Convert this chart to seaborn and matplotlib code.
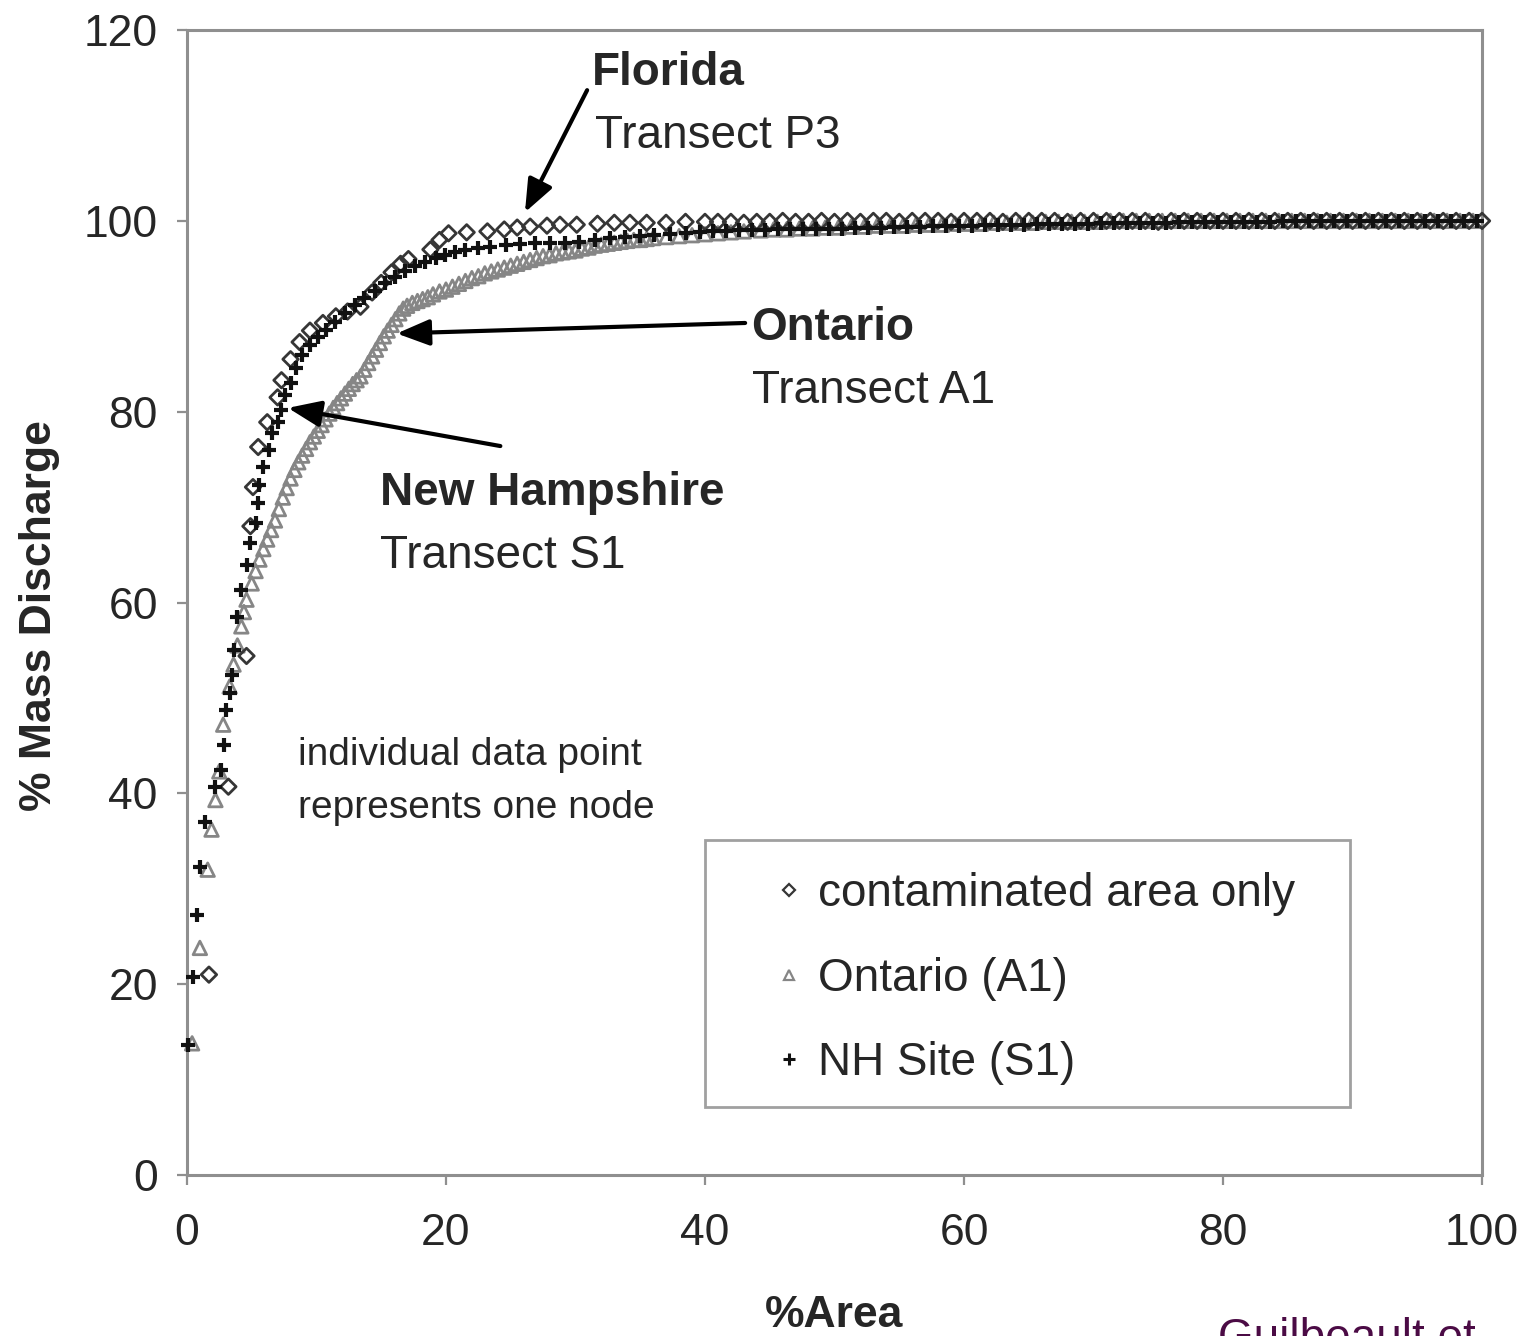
import matplotlib
matplotlib.use("Agg")
import matplotlib.pyplot as plt
import seaborn as sns
from matplotlib.lines import Line2D
from matplotlib.patches import Rectangle

# ---- data: cumulative % mass discharge vs cumulative % area -------------
# Florida, transect P3 (contaminated area only)
florida_x_head = [1.7, 3.2, 4.6, 4.9, 5.1, 5.5, 6.2, 7.0, 7.3, 8.0,
                  8.7, 9.5, 10.5, 11.5, 12.4, 13.4, 14.3, 15.0, 15.8, 16.5,
                  17.1, 18.8, 19.5, 20.2, 21.6, 23.2, 24.5, 25.5, 26.5, 27.8,
                  28.8, 30.1, 31.7, 33.0, 34.2, 35.5, 37.0, 38.5, 40.0]
florida_y_head = [21.0, 40.7, 54.4, 68.0, 72.1, 76.3, 78.9, 81.5, 83.3, 85.5,
                  87.3, 88.5, 89.3, 90.0, 90.5, 91.0, 92.5, 93.5, 94.6, 95.5,
                  96.0, 97.0, 98.0, 98.7, 98.8, 98.9, 99.1, 99.3, 99.4, 99.5,
                  99.6, 99.6, 99.7, 99.8, 99.8, 99.8, 99.8, 99.9, 99.9]
florida_x_tail = [41, 42, 43, 44, 45, 46, 47, 48, 49, 50,
                  51, 52, 53, 54, 55, 56, 57, 58, 59, 60,
                  61, 62, 63, 64, 65, 66, 67, 68, 69, 70,
                  71, 72, 73, 74, 75, 76, 77, 78, 79, 80,
                  81, 82, 83, 84, 85, 86, 87, 88, 89, 90,
                  91, 92, 93, 94, 95, 96, 97, 98, 99, 100]
florida_y_tail = [99.9, 99.9, 99.8, 99.9, 99.9, 100.0, 99.9, 99.9, 100.0, 99.9,
                  100.0, 99.9, 100.0, 100.0, 99.9, 100.0, 100.0, 100.0, 99.9, 100.0,
                  100.0, 100.0, 99.9, 100.0, 100.0, 100.0, 100.0, 99.9, 100.0, 100.0,
                  100.0, 100.0, 100.0, 100.0, 99.9, 100.0, 100.0, 100.0, 100.0, 100.0,
                  100.0, 100.0, 100.0, 100.0, 100.0, 100.0, 100.0, 100.0, 100.0, 100.0,
                  100.0, 100.0, 100.0, 100.0, 100.0, 100.0, 100.0, 100.0, 100.0, 100.0]

# Ontario, transect A1
ontario_x_head = [0.4, 1.0, 1.6, 1.9, 2.2, 2.5, 2.8, 3.3, 3.6, 3.9,
                  4.2, 4.4, 4.6, 5.0, 5.3, 5.6, 5.9, 6.2, 6.5, 6.8,
                  7.1, 7.4, 7.7, 8.0, 8.3, 8.6, 8.9, 9.2, 9.5, 9.8,
                  10.1, 10.4, 10.7, 11.0, 11.3, 11.6, 11.9, 12.2, 12.5, 12.8,
                  13.1, 13.4, 13.7, 14.0, 14.3, 14.6, 14.9, 15.2, 15.5, 15.8,
                  16.1, 16.4, 16.7, 17.0, 17.4, 17.8, 18.2, 18.6, 19.0, 19.5,
                  20.0, 20.5, 21.0, 21.5, 22.0, 22.5, 23.0, 23.5, 24.0, 24.5,
                  25.0, 25.5, 26.0, 26.5, 27.0, 27.5, 28.0, 28.5, 29.0, 29.5,
                  30.0, 30.5, 31.0, 31.5, 32.0, 32.5, 33.0, 33.5, 34.0, 34.5,
                  35.0, 35.5, 36.0, 37.0, 38.0, 39.0, 40.0, 41.0, 42.0, 43.0]
ontario_y_head = [13.8, 23.8, 32.0, 36.2, 39.3, 42.3, 47.2, 51.2, 53.5, 55.5,
                  57.5, 59.0, 60.3, 62.0, 63.3, 64.5, 65.6, 66.6, 67.6, 68.6,
                  69.8, 71.0, 72.0, 73.0, 73.9, 74.7, 75.4, 76.1, 76.8, 77.4,
                  78.0, 78.6, 79.2, 79.8, 80.4, 80.9, 81.4, 81.9, 82.4, 82.9,
                  83.3, 83.7, 84.4, 85.1, 85.8, 86.5, 87.2, 87.9, 88.5, 89.1,
                  89.7, 90.3, 90.8, 91.1, 91.4, 91.6, 91.8, 92.0, 92.3, 92.6,
                  92.8, 93.1, 93.4, 93.7, 94.0, 94.2, 94.5, 94.7, 94.9, 95.1,
                  95.3, 95.5, 95.7, 95.9, 96.1, 96.3, 96.4, 96.6, 96.7, 96.8,
                  96.9, 97.1, 97.2, 97.4, 97.5, 97.6, 97.7, 97.8, 97.9, 98.0,
                  98.0, 98.1, 98.2, 98.3, 98.4, 98.5, 98.6, 98.7, 98.8, 98.9]
ontario_x_tail = [44.3, 45.3, 46.3, 47.3, 48.3, 49.3, 50.3, 51.3, 52.3, 53.3,
                  54.3, 55.3, 56.3, 57.3, 58.3, 59.3, 60.3, 61.3, 62.3, 63.3,
                  64.3, 65.3, 66.3, 67.3, 68.3, 69.3, 70.3, 71.3, 72.3, 73.3,
                  74.3, 75.3, 76.3, 77.3, 78.3, 79.3, 80.3, 81.3, 82.3, 83.3,
                  84.3, 85.3, 86.3, 87.3, 88.3, 89.3, 90.3, 91.3, 92.3, 93.3,
                  94.3, 95.3, 96.3, 97.3, 98.3, 99.3]
ontario_y_tail = [99.0, 99.1, 99.1, 99.2, 99.2, 99.3, 99.3, 99.4, 99.4, 99.5,
                  99.5, 99.5, 99.6, 99.6, 99.6, 99.7, 99.7, 99.7, 99.8, 99.8,
                  99.8, 99.8, 99.9, 99.9, 99.9, 99.9, 99.9, 100.0, 100.0, 100.0,
                  100.0, 100.0, 100.0, 100.0, 100.0, 100.0, 100.0, 100.0, 100.0, 100.0,
                  100.0, 100.0, 100.0, 100.0, 100.0, 100.0, 100.0, 100.0, 100.0, 100.0,
                  100.0, 100.0, 100.0, 100.0, 100.0, 100.0]

# New Hampshire site, transect S1
nh_x_head = [0.1, 0.5, 0.8, 1.0, 1.4, 2.2, 2.6, 2.9, 3.0, 3.3,
             3.5, 3.6, 3.9, 4.2, 4.6, 4.9, 5.3, 5.5, 5.6, 5.9,
             6.3, 6.6, 7.0, 7.3, 7.6, 8.0, 8.4, 8.9, 9.5, 10.1,
             10.7, 11.4, 12.2, 13.0, 13.7, 14.5, 15.3, 16.1, 16.8, 17.6,
             18.4, 19.2, 19.9, 20.7, 21.5, 22.5, 23.4, 24.6, 25.7, 26.9,
             28.0, 29.2, 30.3, 31.5, 32.7, 33.8, 35.0, 36.1, 37.3, 38.5,
             39.6]
nh_y_head = [13.6, 20.8, 27.2, 32.3, 37.0, 40.7, 42.5, 45.1, 48.7, 50.5,
             52.4, 55.0, 58.5, 61.3, 63.9, 66.2, 68.3, 70.4, 72.3, 74.2,
             76.0, 77.8, 78.9, 80.2, 81.7, 83.0, 84.6, 85.9, 87.0, 87.8,
             88.6, 89.4, 90.3, 91.2, 91.9, 92.7, 93.5, 94.1, 94.7, 95.3,
             95.7, 96.1, 96.4, 96.7, 97.0, 97.2, 97.3, 97.5, 97.6, 97.7,
             97.7, 97.7, 97.8, 98.0, 98.2, 98.3, 98.4, 98.5, 98.6, 98.7,
             98.8]
nh_x_tail = [40.6, 41.6, 42.6, 43.6, 44.6, 45.6, 46.6, 47.6, 48.6, 49.6,
             50.6, 51.6, 52.6, 53.6, 54.6, 55.6, 56.6, 57.6, 58.6, 59.6,
             60.6, 61.6, 62.6, 63.6, 64.6, 65.6, 66.6, 67.6, 68.6, 69.6,
             70.6, 71.6, 72.6, 73.6, 74.6, 75.6, 76.6, 77.6, 78.6, 79.6,
             80.6, 81.6, 82.6, 83.6, 84.6, 85.6, 86.6, 87.6, 88.6, 89.6,
             90.6, 91.6, 92.6, 93.6, 94.6, 95.6, 96.6, 97.6, 98.6, 99.6]
nh_y_tail = [98.9, 98.9, 99.0, 99.0, 99.0, 99.1, 99.1, 99.1, 99.2, 99.2,
             99.2, 99.3, 99.3, 99.3, 99.4, 99.4, 99.4, 99.5, 99.5, 99.5,
             99.5, 99.6, 99.6, 99.6, 99.6, 99.7, 99.7, 99.7, 99.7, 99.7,
             99.8, 99.8, 99.8, 99.8, 99.8, 99.8, 99.9, 99.9, 99.9, 99.9,
             99.9, 99.9, 99.9, 99.9, 100.0, 100.0, 100.0, 100.0, 100.0, 100.0,
             100.0, 100.0, 100.0, 100.0, 100.0, 100.0, 100.0, 100.0, 100.0, 100.0]

series_labels = ["contaminated area only", "Ontario (A1)", "NH Site (S1)"]
x_ticks = [0, 20, 40, 60, 80, 100]
y_ticks = [0, 20, 40, 60, 80, 100, 120]

florida_x = florida_x_head + florida_x_tail
florida_y = florida_y_head + florida_y_tail
ontario_x = ontario_x_head + ontario_x_tail
ontario_y = ontario_y_head + ontario_y_tail
nh_x = nh_x_head + nh_x_tail
nh_y = nh_y_head + nh_y_tail

# ---- style ---------------------------------------------------------------
sns.set_theme(style="white")
plt.rcParams["font.family"] = ["Liberation Sans", "DejaVu Sans"]

TEXT = "#262626"
AXIS = "#8f8f8f"
DIAMOND = "#363636"
TRIANGLE = "#868686"

fig = plt.figure(figsize=(15.26, 13.36), dpi=100)
ax = fig.add_axes([0.1225, 0.1205, 0.8487, 0.857])

sns.scatterplot(x=ontario_x, y=ontario_y, marker="^", s=95,
                facecolors="none", edgecolor=TRIANGLE, linewidth=2.0,
                clip_on=False, zorder=3, ax=ax)
sns.scatterplot(x=florida_x, y=florida_y, marker="D", s=62,
                facecolors="none", edgecolor=DIAMOND, linewidth=2.0,
                clip_on=False, zorder=4, ax=ax)
sns.scatterplot(x=nh_x, y=nh_y, marker="+", s=95, color="#111111",
                linewidth=3.0, clip_on=False, zorder=5, ax=ax)

ax.set_xlim(0, 100)
ax.set_ylim(0, 120)
ax.set_xticks(x_ticks)
ax.set_yticks(y_ticks)

for side in ["left", "bottom", "top", "right"]:
    ax.spines[side].set_visible(True)
    ax.spines[side].set_color(AXIS)
    ax.spines[side].set_linewidth(2.2)

ax.tick_params(axis="both", which="major", bottom=True, left=True,
               direction="out", length=7, width=1.6, color=AXIS,
               labelsize=32, labelcolor=TEXT)
ax.tick_params(axis="x", pad=20)
ax.tick_params(axis="y", pad=14)

ax.set_ylabel("% Mass Discharge", fontsize=32, fontweight="bold", color=TEXT)
ax.yaxis.set_label_coords(-0.098, 0.489)
ax.set_xlabel("%Area", fontsize=32, fontweight="bold", color=TEXT)
ax.xaxis.set_label_coords(0.5, -0.105)

# ---- site annotations ----------------------------------------------------
ax.text(31.3, 114.2, "Florida", fontsize=33, fontweight="bold", color=TEXT)
ax.text(31.5, 107.6, "Transect P3", fontsize=33, color=TEXT)
ax.text(43.6, 87.5, "Ontario", fontsize=33, fontweight="bold", color=TEXT)
ax.text(43.6, 80.9, "Transect A1", fontsize=33, color=TEXT)
ax.text(14.9, 70.2, "New Hampshire", fontsize=33, fontweight="bold", color=TEXT)
ax.text(14.9, 63.6, "Transect S1", fontsize=33, color=TEXT)
ax.text(8.6, 43.0, "individual data point", fontsize=28, color=TEXT)
ax.text(8.6, 37.4, "represents one node", fontsize=28, color=TEXT)

arrow_kw = dict(arrowstyle="-|>,head_length=0.8,head_width=0.32",
                lw=3, color="black", shrinkA=0, shrinkB=0,
                mutation_scale=25)
ax.annotate("", xy=(26.1, 100.9), xytext=(30.9, 113.7), arrowprops=arrow_kw)
ax.annotate("", xy=(16.2, 88.2), xytext=(43.1, 89.3), arrowprops=arrow_kw)
ax.annotate("", xy=(7.8, 80.4), xytext=(24.2, 76.4), arrowprops=arrow_kw)

# ---- legend --------------------------------------------------------------
handles = [
    Line2D([], [], ls="", marker="D", markersize=6, mfc="none",
           mec=DIAMOND, mew=1.6),
    Line2D([], [], ls="", marker="^", markersize=7, mfc="none",
           mec=TRIANGLE, mew=1.6),
    Line2D([], [], ls="", marker="+", markersize=9, color="#111111", mew=2.2),
]
ax.legend(handles, series_labels, loc="upper left",
          bbox_to_anchor=(0.438, 0.2848), frameon=False, borderpad=0,
          handlelength=0.5, handletextpad=0.4, labelspacing=0.89,
          fontsize=33, labelcolor=TEXT)
ax.add_patch(Rectangle((0.400, 0.0594), 0.498, 0.2332, transform=ax.transAxes,
                       fill=False, edgecolor="#a0a0a0", lw=2, zorder=2))

fig.text(0.798, -0.0112, "Guilbeault et", fontsize=33, color="#4b0b45",
         va="baseline")

fig.savefig("out.png", dpi=100)
